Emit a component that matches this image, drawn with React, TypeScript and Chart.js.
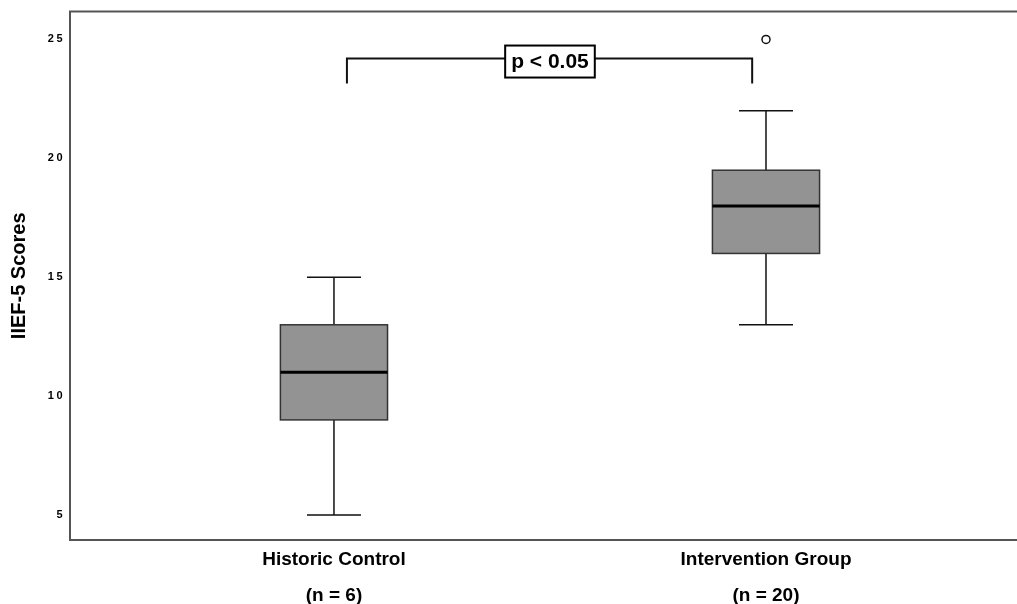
import { useEffect, useRef } from 'react';
import { Chart, registerables } from 'chart.js';

Chart.register(...registerables);

const categories = ['Historic Control', 'Intervention Group'];
const sampleSizes = ['(n = 6)', '(n = 20)'];
const groupPositions = [1, 2];
const whiskerLow = [5, 13];
const q1 = [9, 16];
const median = [11, 18];
const q3 = [13, 19.5];
const whiskerHigh = [15, 22];
const outlierGroup = [2];
const outlierValue = [25];
const yTicks = [5, 10, 15, 20, 25];
const sigLabel = 'p < 0.05';

const FONT = "'Liberation Sans', Arial, Helvetica, sans-serif";

const boxPlugin = {
  id: 'boxPlot',
  beforeDraw(chart: any) {
    const ys = chart.scales.y;
    if (ys && !ys._spaced) {
      const orig = ys.drawLabels.bind(ys);
      ys.drawLabels = (area: any) => {
        const ctx = chart.ctx;
        ctx.save();
        ctx.letterSpacing = '2.5px';
        orig(area);
        ctx.restore();
      };
      ys._spaced = true;
    }
  },
  beforeDatasetsDraw(chart: any) {
    const { ctx, scales } = chart;
    const xs = scales.x;
    const ys = scales.y;
    const boxHalf = 0.124;
    const capHalf = 0.0625;
    ctx.save();
    for (let i = 0; i < groupPositions.length; i++) {
      const g = groupPositions[i];
      const cx = xs.getPixelForValue(g);
      const left = xs.getPixelForValue(g - boxHalf);
      const right = xs.getPixelForValue(g + boxHalf);
      const capL = xs.getPixelForValue(g - capHalf);
      const capR = xs.getPixelForValue(g + capHalf);
      const yLo = ys.getPixelForValue(whiskerLow[i]);
      const yQ1 = ys.getPixelForValue(q1[i]);
      const yMed = ys.getPixelForValue(median[i]);
      const yQ3 = ys.getPixelForValue(q3[i]);
      const yHi = ys.getPixelForValue(whiskerHigh[i]);
      ctx.strokeStyle = '#111';
      ctx.lineWidth = 1.5;
      ctx.beginPath();
      ctx.moveTo(cx, yHi);
      ctx.lineTo(cx, yQ3);
      ctx.moveTo(cx, yQ1);
      ctx.lineTo(cx, yLo);
      ctx.moveTo(capL, yHi);
      ctx.lineTo(capR, yHi);
      ctx.moveTo(capL, yLo);
      ctx.lineTo(capR, yLo);
      ctx.stroke();
      ctx.fillStyle = '#939393';
      ctx.fillRect(left, yQ3, right - left, yQ1 - yQ3);
      ctx.strokeStyle = '#333';
      ctx.lineWidth = 1.5;
      ctx.strokeRect(left, yQ3, right - left, yQ1 - yQ3);
      ctx.strokeStyle = '#000';
      ctx.lineWidth = 3;
      ctx.beginPath();
      ctx.moveTo(left, yMed);
      ctx.lineTo(right, yMed);
      ctx.stroke();
    }
    ctx.restore();
  },
  afterDatasetsDraw(chart: any) {
    const { ctx, scales, chartArea } = chart;
    const xs = scales.x;
    const ys = scales.y;
    ctx.save();
    ctx.strokeStyle = '#555';
    ctx.lineWidth = 2;
    ctx.beginPath();
    ctx.moveTo(chart.width, chartArea.top);
    ctx.lineTo(chartArea.left, chartArea.top);
    ctx.lineTo(chartArea.left, chartArea.bottom);
    ctx.lineTo(chart.width, chartArea.bottom);
    ctx.stroke();
    const bx1 = xs.getPixelForValue(1.03);
    const bx2 = xs.getPixelForValue(1.968);
    const by = ys.getPixelForValue(24.2);
    const byDrop = ys.getPixelForValue(23.15);
    ctx.strokeStyle = '#111';
    ctx.lineWidth = 2;
    ctx.beginPath();
    ctx.moveTo(bx1, byDrop);
    ctx.lineTo(bx1, by);
    ctx.lineTo(bx2, by);
    ctx.lineTo(bx2, byDrop);
    ctx.stroke();
    const lx = xs.getPixelForValue(1.5);
    const ly = ys.getPixelForValue(24.07);
    ctx.font = `bold 21px ${FONT}`;
    const tw = ctx.measureText(sigLabel).width;
    const bw = tw + 12;
    const bh = 32;
    ctx.fillStyle = '#fff';
    ctx.fillRect(lx - bw / 2, ly - bh / 2, bw, bh);
    ctx.strokeStyle = '#000';
    ctx.lineWidth = 2;
    ctx.strokeRect(lx - bw / 2, ly - bh / 2, bw, bh);
    ctx.fillStyle = '#000';
    ctx.textAlign = 'center';
    ctx.textBaseline = 'middle';
    ctx.fillText(sigLabel, lx, ly + 1);
    ctx.restore();
  },
};

export default function App() {
  const canvasRef = useRef<HTMLCanvasElement | null>(null);

  useEffect(() => {
    if (!canvasRef.current) return;
    const chart = new Chart(canvasRef.current, {
      type: 'scatter',
      data: {
        datasets: [
          {
            label: 'Outliers',
            data: outlierGroup.map((g, i) => ({ x: g, y: outlierValue[i] })),
            pointRadius: 4,
            pointHoverRadius: 4,
            pointBackgroundColor: '#fff',
            pointBorderColor: '#111',
            pointBorderWidth: 1.5,
          },
        ],
      },
      options: {
        responsive: false,
        animation: false,
        layout: { autoPadding: false, padding: { top: 10, right: 0, left: 0, bottom: 0 } },
        plugins: {
          legend: { display: false },
          tooltip: { enabled: false },
        },
        scales: {
          x: {
            type: 'linear',
            min: 0.389,
            max: 2.581,
            grid: { display: false, drawTicks: false },
            border: { display: false },
            afterBuildTicks: (s: any) => {
              s.ticks = groupPositions.map((v) => ({ value: v }));
            },
            afterFit: (s: any) => {
              s.height = 64;
            },
            ticks: {
              autoSkip: false,
              maxRotation: 0,
              minRotation: 0,
              padding: 2,
              color: '#000',
              font: { family: FONT, size: 19, weight: 'bold', lineHeight: 36 / 19 },
              callback: (v: any) => {
                const i = groupPositions.indexOf(Number(v));
                return i >= 0 ? [categories[i], sampleSizes[i]] : '';
              },
            },
          },
          y: {
            type: 'linear',
            min: 3.95,
            max: 26.17,
            grid: { display: false, drawTicks: false },
            border: { display: false },
            afterBuildTicks: (s: any) => {
              s.ticks = yTicks.map((v) => ({ value: v }));
            },
            afterFit: (s: any) => {
              s.width = 70;
            },
            ticks: {
              padding: 5,
              color: '#000',
              font: { family: FONT, size: 11, weight: 'bold' },
            },
            title: {
              display: true,
              text: 'IIEF-5 Scores',
              color: '#000',
              font: { family: FONT, size: 20, weight: 'bold' },
              padding: { top: 7, bottom: 0 },
            },
          },
        },
      },
      plugins: [boxPlugin],
    } as any);
    return () => chart.destroy();
  }, []);

  return (
    <div style={{ position: 'fixed', left: 0, top: 0, width: 1017, height: 604, background: '#fff' }}>
      <canvas ref={canvasRef} width={1017} height={604} />
    </div>
  );
}
